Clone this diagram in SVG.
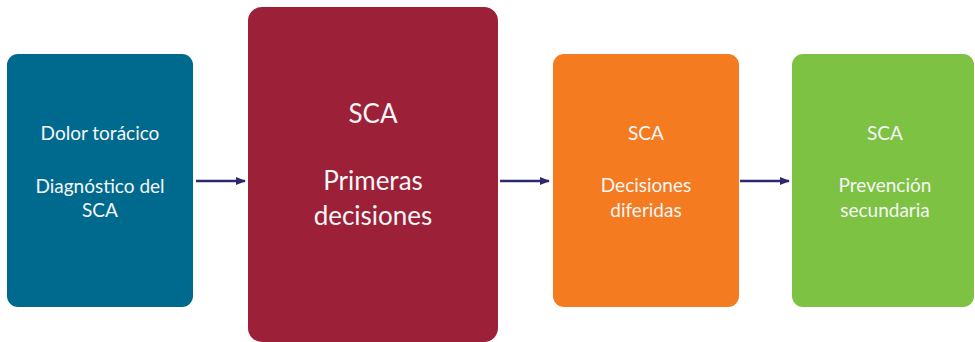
<svg xmlns="http://www.w3.org/2000/svg" width="975" height="342" viewBox="0 0 975 342">
<style>
.t{font-family:Lato,"Noto Sans","Liberation Sans",sans-serif;font-weight:400;fill:#f6f6f6;text-anchor:middle}
.s{font-size:19px}
.b{font-size:26px}
.c{stroke:#2b2a6b;stroke-width:2.5;fill:none;marker-end:url(#ah)}
</style>
<defs>
<marker id="ah" markerWidth="10" markerHeight="10" refX="9" refY="5" orient="auto" markerUnits="userSpaceOnUse">
<path d="M0,1 L10,5 L0,9 Z" fill="#2b2a6b"/>
</marker>
</defs>
<rect width="975" height="342" fill="#ffffff"/>
<g id="n1">
<rect x="7" y="54" width="186" height="253" rx="11" fill="#006a8e"/>
<text class="t s" x="100" y="140">Dolor torácico</text>
<text class="t s" x="100" y="193">Diagnóstico del</text>
<text class="t s" x="100" y="217">SCA</text>
</g>
<g id="n2">
<rect x="248" y="7" width="250" height="335" rx="14" fill="#9b2038"/>
<text class="t b" x="373" y="123">SCA</text>
<text class="t b" x="373" y="190">Primeras</text>
<text class="t b" x="373" y="225">decisiones</text>
</g>
<g id="n3">
<rect x="553" y="54" width="186" height="253" rx="11" fill="#f47b20"/>
<text class="t s" x="646" y="140">SCA</text>
<text class="t s" x="646" y="192">Decisiones</text>
<text class="t s" x="646" y="217">diferidas</text>
</g>
<g id="n4">
<rect x="792" y="54" width="182" height="253" rx="11" fill="#7dc243"/>
<text class="t s" x="885" y="140">SCA</text>
<text class="t s" x="885" y="192">Prevención</text>
<text class="t s" x="885" y="217">secundaria</text>
</g>
<g id="connectors">
<line class="c" x1="196" y1="181" x2="245" y2="181"/>
<line class="c" x1="500" y1="181" x2="549" y2="181"/>
<line class="c" x1="740" y1="181" x2="789" y2="181"/>
</g>
</svg>
